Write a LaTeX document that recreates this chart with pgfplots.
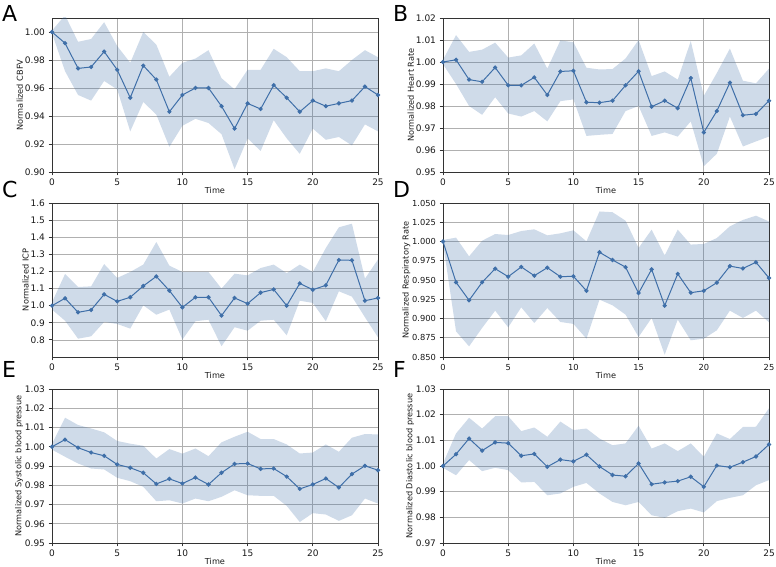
\documentclass[border=0pt]{standalone}
\usepackage{fontspec}
\setmainfont{DejaVu Sans}
\usepackage{pgfplots}
\usepackage{pgfplotstable}
\pgfplotsset{compat=1.18}
\usepgfplotslibrary{fillbetween}

\definecolor{meanline}{HTML}{3F6FA8}
\definecolor{gridc}{HTML}{B0B0B0}
\definecolor{spine}{HTML}{333333}

% columns: time, mean, lower and upper bound of the confidence band
\pgfplotstableread{
t mean lo hi
0 1.000 0.999 1.001
1 0.992 0.972 1.012
2 0.974 0.955 0.993
3 0.975 0.951 0.995
4 0.986 0.965 1.007
5 0.973 0.959 0.990
6 0.953 0.929 0.978
7 0.976 0.950 1.000
8 0.966 0.941 0.991
9 0.943 0.918 0.968
10 0.955 0.933 0.978
11 0.960 0.938 0.981
12 0.960 0.935 0.987
13 0.947 0.927 0.967
14 0.931 0.902 0.959
15 0.949 0.924 0.973
16 0.945 0.915 0.973
17 0.962 0.937 0.988
18 0.953 0.924 0.982
19 0.943 0.913 0.972
20 0.951 0.931 0.972
21 0.947 0.923 0.974
22 0.949 0.925 0.972
23 0.951 0.919 0.980
24 0.961 0.934 0.987
25 0.955 0.929 0.982
}\cbfv

\pgfplotstableread{
t mean lo hi
0 1.0000 0.9990 1.0010
1 1.0010 0.9900 1.0122
2 0.9920 0.9800 1.0046
3 0.9910 0.9760 1.0056
4 0.9975 0.9840 1.0088
5 0.9894 0.9766 1.0020
6 0.9894 0.9752 1.0030
7 0.9930 0.9777 1.0084
8 0.9850 0.9730 0.9970
9 0.9957 0.9822 1.0098
10 0.9960 0.9830 1.0090
11 0.9817 0.9664 0.9974
12 0.9815 0.9669 0.9966
13 0.9824 0.9673 0.9968
14 0.9894 0.9777 1.0016
15 0.9958 0.9800 1.0100
16 0.9797 0.9664 0.9936
17 0.9824 0.9680 0.9957
18 0.9790 0.9661 0.9920
19 0.9927 0.9730 1.0095
20 0.9680 0.9526 0.9846
21 0.9777 0.9583 0.9950
22 0.9906 0.9752 1.0061
23 0.9758 0.9616 0.9915
24 0.9764 0.9639 0.9903
25 0.9824 0.9661 0.9970
}\hr

\pgfplotstableread{
t mean lo hi
0 1.000 0.977 1.020
1 1.043 0.912 1.185
2 0.961 0.807 1.109
3 0.975 0.821 1.113
4 1.066 0.905 1.243
5 1.025 0.893 1.162
6 1.049 0.866 1.197
7 1.115 1.002 1.240
8 1.171 0.947 1.372
9 1.088 0.977 1.234
10 0.990 0.802 1.197
11 1.049 0.909 1.197
12 1.049 0.918 1.197
13 0.942 0.763 1.100
14 1.045 0.874 1.187
15 1.012 0.854 1.177
16 1.076 0.912 1.220
17 1.095 0.918 1.240
18 1.000 0.827 1.190
19 1.130 1.029 1.240
20 1.093 1.016 1.197
21 1.119 0.909 1.337
22 1.267 1.084 1.458
23 1.265 1.053 1.479
24 1.029 0.932 1.158
25 1.045 0.815 1.270
}\icp

\pgfplotstableread{
t mean lo hi
0 1.0000 0.9980 1.0020
1 0.9470 0.8833 1.0050
2 0.9236 0.8638 0.9807
3 0.9470 0.8877 1.0010
4 0.9647 0.9102 1.0097
5 0.9543 0.8885 1.0084
6 0.9670 0.9145 1.0136
7 0.9556 0.8942 1.0158
8 0.9660 0.9136 1.0080
9 0.9543 0.8955 1.0106
10 0.9548 0.8930 1.0145
11 0.9360 0.8738 1.0002
12 0.9860 0.9245 1.0390
13 0.9760 0.9171 1.0380
14 0.9667 0.9050 1.0270
15 0.9330 0.8760 0.9916
16 0.9638 0.9007 1.0154
17 0.9167 0.8530 0.9820
18 0.9580 0.8985 1.0154
19 0.9335 0.8717 0.9960
20 0.9360 0.8738 0.9968
21 0.9465 0.8847 1.0045
22 0.9680 0.9102 1.0197
23 0.9650 0.9007 1.0280
24 0.9730 0.9102 1.0335
25 0.9526 0.8950 1.0260
}\resp

\pgfplotstableread{
t mean lo hi
0 1.0000 0.9985 1.0015
1 1.0037 0.9948 1.0151
2 0.9995 0.9913 1.0113
3 0.9970 0.9887 1.0095
4 0.9953 0.9882 1.0075
5 0.9908 0.9839 1.0030
6 0.9891 0.9821 1.0016
7 0.9865 0.9792 1.0005
8 0.9807 0.9717 0.9939
9 0.9833 0.9722 0.9988
10 0.9809 0.9705 0.9964
11 0.9840 0.9731 0.9991
12 0.9804 0.9717 0.9951
13 0.9865 0.9740 1.0023
14 0.9911 0.9774 1.0052
15 0.9913 0.9748 1.0078
16 0.9885 0.9745 1.0040
17 0.9887 0.9745 1.0040
18 0.9845 0.9693 1.0012
19 0.9781 0.9609 0.9965
20 0.9804 0.9655 0.9970
21 0.9835 0.9648 1.0012
22 0.9788 0.9615 0.9974
23 0.9858 0.9644 1.0047
24 0.9901 0.9731 1.0066
25 0.9878 0.9705 1.0064
}\sbp

\pgfplotstableread{
t mean lo hi
0 1.0000 0.9993 1.0010
1 1.0046 0.9964 1.0127
2 1.0107 1.0023 1.0188
3 1.0060 0.9980 1.0146
4 1.0092 0.9993 1.0194
5 1.0089 0.9984 1.0194
6 1.0040 0.9936 1.0136
7 1.0047 0.9938 1.0150
8 0.9997 0.9886 1.0114
9 1.0025 0.9893 1.0173
10 1.0018 0.9919 1.0140
11 1.0044 0.9934 1.0146
12 0.9998 0.9893 1.0107
13 0.9965 0.9860 1.0081
14 0.9960 0.9847 1.0088
15 1.0010 0.9860 1.0157
16 0.9929 0.9808 1.0068
17 0.9936 0.9798 1.0088
18 0.9941 0.9824 1.0058
19 0.9958 0.9834 1.0088
20 0.9919 0.9819 1.0036
21 1.0002 0.9863 1.0127
22 0.9995 0.9876 1.0105
23 1.0015 0.9886 1.0152
24 1.0037 0.9925 1.0153
25 1.0084 0.9945 1.0225
}\dbp

\pgfplotsset{
  panel/.style={
    scale only axis, width=326pt, height=154pt, anchor=south west,
    xmin=0, xmax=25, xtick={0,5,10,15,20,25},
    grid=major, major grid style={gridc, line width=0.7pt},
    axis line style={spine, line width=0.8pt},
    tick pos=left, tick align=outside,
    major tick length=3.5pt,
    every tick/.style={spine, line width=0.8pt},
    /pgf/number format/assume math mode=true,
    tick label style={font=\fontsize{9}{10}\selectfont, text=black!90},
    label style={font=\fontsize{8.2}{9}\selectfont, text=black!90},
    xlabel={Time},
    xlabel style={yshift=5pt},
    ylabel style={yshift=-5pt},
    yticklabel style={/pgf/number format/.cd, fixed, fixed zerofill, precision=2},
  },
}

% draws band, mean line and markers from one table
\newcommand{\series}[1]{%
  \addplot[name path=hi, draw=none, forget plot] table[x=t, y=hi] {#1};
  \addplot[name path=lo, draw=none, forget plot] table[x=t, y=lo] {#1};
  \addplot[fill=meanline, fill opacity=0.25, draw=none] fill between[of=hi and lo];
  \addplot[meanline, line width=1pt, mark=*, mark size=1.6pt,
           mark options={fill=meanline, draw=meanline}] table[x=t, y=mean] {#1};
}

\begin{document}
\begin{tikzpicture}

% row 1
\begin{axis}[panel, at={(52pt,395pt)}, ymin=0.90, ymax=1.01,
  ytick={0.90,0.92,0.94,0.96,0.98,1.00}, ylabel={Normalized CBFV}]
  \series{\cbfv}
\end{axis}
\begin{axis}[panel, at={(443pt,395pt)}, ymin=0.95, ymax=1.02,
  ytick={0.95,0.96,0.97,0.98,0.99,1.00,1.01,1.02}, ylabel={Normalized Heart Rate}]
  \series{\hr}
\end{axis}

% row 2
\begin{axis}[panel, at={(52pt,210pt)}, ymin=0.70, ymax=1.60,
  ytick={0.8,0.9,1.0,1.1,1.2,1.3,1.4,1.5,1.6}, ylabel={Normalized ICP},
  yticklabel style={/pgf/number format/.cd, fixed, fixed zerofill, precision=1}]
  \series{\icp}
\end{axis}
\begin{axis}[panel, at={(443pt,210pt)}, ymin=0.85, ymax=1.05,
  ytick={0.850,0.875,0.900,0.925,0.950,0.975,1.000,1.025,1.050},
  ylabel={Normalized Respiratory Rate},
  yticklabel style={/pgf/number format/.cd, fixed, fixed zerofill, precision=3},
  tick label style={font=\fontsize{8.3}{9}\selectfont}]
  \series{\resp}
\end{axis}

% row 3
\begin{axis}[panel, at={(52pt,24pt)}, ymin=0.95, ymax=1.03,
  ytick={0.95,0.96,0.97,0.98,0.99,1.00,1.01,1.02,1.03},
  ylabel={Normalized Systolic blood pressue}]
  \series{\sbp}
\end{axis}
\begin{axis}[panel, at={(443pt,24pt)}, ymin=0.97, ymax=1.03,
  ytick={0.97,0.98,0.99,1.00,1.01,1.02,1.03},
  ylabel={Normalized Diastolic blood pressue}]
  \series{\dbp}
\end{axis}

% panel letters
\begin{scope}[every node/.style={anchor=base west, inner sep=0pt,
    font=\fontsize{22}{22}\selectfont}]
  \node at (2pt,545pt) {A};
  \node at (393pt,545pt) {B};
  \node at (2pt,369pt) {C};
  \node at (393pt,369pt) {D};
  \node at (2pt,189pt) {E};
  \node at (393pt,189pt) {F};
\end{scope}

% page frame
\pgfresetboundingbox
\path (0pt,0pt) rectangle (776pt,567pt);
\end{tikzpicture}
\end{document}
